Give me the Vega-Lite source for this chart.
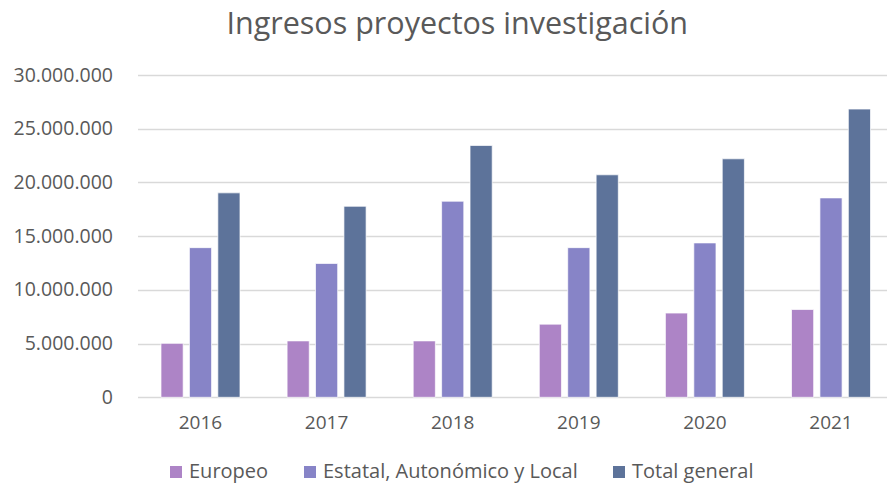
{
  "$schema": "https://vega.github.io/schema/vega-lite/v6.json",
  "width": 749.5,
  "height": 322.3,
  "autosize": {"type": "none"},
  "padding": {"left": 137.5, "top": 75, "right": 0, "bottom": 86.7},
  "background": "white",
  "title": {
    "text": "Ingresos proyectos investigación",
    "font": "Open Sans",
    "fontSize": 30.5,
    "fontWeight": "normal",
    "color": "#595959",
    "anchor": "middle",
    "frame": "group",
    "dx": -55,
    "baseline": "alphabetic",
    "offset": 1
  },
  "data": {
    "values": [
      {"anio": "2016", "serie": "Europeo", "valor": 5020000},
      {"anio": "2016", "serie": "Estatal, Autonómico y Local", "valor": 13930000},
      {"anio": "2016", "serie": "Total general", "valor": 19030000},
      {"anio": "2017", "serie": "Europeo", "valor": 5250000},
      {"anio": "2017", "serie": "Estatal, Autonómico y Local", "valor": 12460000},
      {"anio": "2017", "serie": "Total general", "valor": 17780000},
      {"anio": "2018", "serie": "Europeo", "valor": 5250000},
      {"anio": "2018", "serie": "Estatal, Autonómico y Local", "valor": 18250000},
      {"anio": "2018", "serie": "Total general", "valor": 23440000},
      {"anio": "2019", "serie": "Europeo", "valor": 6810000},
      {"anio": "2019", "serie": "Estatal, Autonómico y Local", "valor": 13930000},
      {"anio": "2019", "serie": "Total general", "valor": 20710000},
      {"anio": "2020", "serie": "Europeo", "valor": 7840000},
      {"anio": "2020", "serie": "Estatal, Autonómico y Local", "valor": 14370000},
      {"anio": "2020", "serie": "Total general", "valor": 22200000},
      {"anio": "2021", "serie": "Europeo", "valor": 8170000},
      {"anio": "2021", "serie": "Estatal, Autonómico y Local", "valor": 18560000},
      {"anio": "2021", "serie": "Total general", "valor": 26830000}
    ]
  },
  "mark": {"type": "bar", "stroke": "white", "strokeWidth": 1, "strokeOpacity": 0.7},
  "encoding": {
    "x": {
      "field": "anio",
      "type": "nominal",
      "scale": {"range": [0, 756.5], "paddingInner": 0.3735, "paddingOuter": 0.1863},
      "axis": {
        "title": null,
        "labelAngle": 0,
        "labelFont": "Open Sans",
        "labelFontSize": 19,
        "labelColor": "#595959",
        "labelPadding": 16,
        "ticks": false,
        "domain": false,
        "grid": false
      }
    },
    "xOffset": {
      "field": "serie",
      "type": "nominal",
      "sort": ["Europeo", "Estatal, Autonómico y Local", "Total general"],
      "scale": {"paddingInner": 0.22, "paddingOuter": 0}
    },
    "y": {
      "field": "valor",
      "type": "quantitative",
      "scale": {"domain": [0, 30000000], "nice": false},
      "axis": {
        "title": null,
        "values": [0, 5000000, 10000000, 15000000, 20000000, 25000000, 30000000],
        "format": ",d",
        "labelFont": "Open Sans",
        "labelFontSize": 19.5,
        "labelColor": "#595959",
        "labelPadding": 25,
        "ticks": false,
        "domain": false,
        "grid": true,
        "gridColor": "#D9D9D9",
        "gridWidth": 1.5
      }
    },
    "color": {
      "field": "serie",
      "type": "nominal",
      "scale": {
        "domain": ["Europeo", "Estatal, Autonómico y Local", "Total general"],
        "range": ["#AD84C6", "#8784C7", "#5D739A"]
      },
      "legend": {
        "title": null,
        "orient": "none",
        "direction": "horizontal",
        "legendX": 28.5,
        "legendY": 387,
        "symbolType": "square",
        "symbolSize": 144,
        "symbolStrokeWidth": 0,
        "labelFont": "Open Sans",
        "labelFontSize": 20,
        "labelColor": "#595959",
        "labelOffset": 3,
        "columnPadding": 31,
        "labelLimit": 400
      }
    }
  },
  "config": {
    "view": {"stroke": null},
    "locale": {
      "number": {"decimal": ",", "thousands": ".", "grouping": [3], "currency": ["", " €"]}
    }
  }
}
